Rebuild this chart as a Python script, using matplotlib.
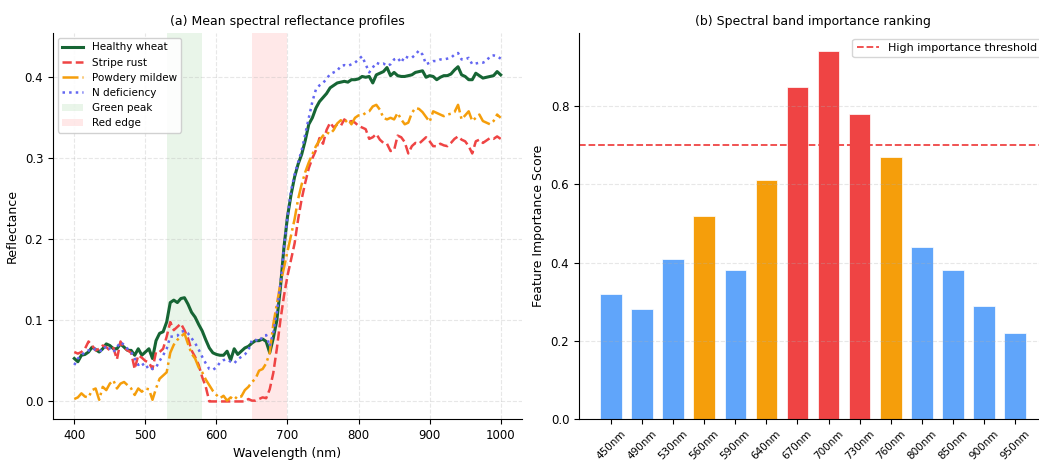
import numpy as np
import matplotlib
matplotlib.use("Agg")
import matplotlib.pyplot as plt
from matplotlib.patches import Patch

# ---------------- data ----------------
wavelengths = np.arange(400, 1001, 5)

healthy = [
    0.053, 0.049, 0.057, 0.058, 0.061, 0.067, 0.064, 0.061, 0.065, 0.071,
    0.069, 0.065, 0.065, 0.071, 0.067, 0.063, 0.063, 0.057, 0.065, 0.057,
    0.061, 0.065, 0.053, 0.075, 0.084, 0.086, 0.098, 0.122, 0.125, 0.122,
    0.127, 0.128, 0.120, 0.110, 0.104, 0.095, 0.087, 0.076, 0.066, 0.060,
    0.058, 0.057, 0.057, 0.062, 0.051, 0.065, 0.058, 0.062, 0.066, 0.068,
    0.072, 0.075, 0.075, 0.077, 0.074, 0.060, 0.078, 0.100, 0.140, 0.190,
    0.228, 0.255, 0.277, 0.293, 0.305, 0.322, 0.342, 0.350, 0.362, 0.370,
    0.375, 0.380, 0.387, 0.390, 0.393, 0.394, 0.395, 0.394, 0.397, 0.397,
    0.398, 0.401, 0.400, 0.401, 0.393, 0.403, 0.405, 0.407, 0.412, 0.402,
    0.406, 0.402, 0.401, 0.401, 0.402, 0.403, 0.406, 0.407, 0.408, 0.400,
    0.402, 0.401, 0.397, 0.400, 0.402, 0.402, 0.404, 0.409, 0.413, 0.403,
    0.401, 0.397, 0.397, 0.405, 0.402, 0.399, 0.400, 0.401, 0.402, 0.407,
    0.403,
]

stripe_rust = [
    0.061, 0.059, 0.061, 0.065, 0.074, 0.069, 0.063, 0.065, 0.069, 0.067,
    0.063, 0.066, 0.052, 0.074, 0.066, 0.063, 0.060, 0.040, 0.057, 0.054,
    0.050, 0.048, 0.040, 0.061, 0.061, 0.065, 0.080, 0.098, 0.088, 0.092,
    0.096, 0.088, 0.078, 0.063, 0.055, 0.045, 0.030, 0.018, 0.000, 0.000,
    0.000, 0.000, 0.000, 0.000, 0.000, 0.000, 0.000, 0.000, 0.000, 0.003,
    0.001, 0.001, 0.003, 0.005, 0.004, 0.015, 0.035, 0.065, 0.100, 0.130,
    0.155, 0.175, 0.195, 0.225, 0.250, 0.270, 0.288, 0.300, 0.310, 0.325,
    0.318, 0.335, 0.344, 0.338, 0.342, 0.340, 0.348, 0.344, 0.346, 0.344,
    0.340, 0.338, 0.336, 0.324, 0.326, 0.330, 0.323, 0.319, 0.318, 0.309,
    0.310, 0.328, 0.326, 0.320, 0.306, 0.315, 0.319, 0.318, 0.322, 0.326,
    0.321, 0.315, 0.315, 0.318, 0.316, 0.315, 0.319, 0.324, 0.327, 0.323,
    0.321, 0.315, 0.306, 0.321, 0.323, 0.319, 0.322, 0.325, 0.324, 0.327,
    0.324,
]

powdery_mildew = [
    0.003, 0.005, 0.010, 0.006, 0.005, 0.014, 0.016, 0.002, 0.018, 0.014,
    0.022, 0.026, 0.016, 0.022, 0.024, 0.020, 0.016, 0.008, 0.016, 0.012,
    0.016, 0.015, 0.002, 0.016, 0.028, 0.032, 0.036, 0.060, 0.070, 0.076,
    0.080, 0.084, 0.071, 0.059, 0.053, 0.042, 0.036, 0.027, 0.020, 0.013,
    0.008, 0.004, 0.007, 0.001, 0.005, 0.002, 0.007, 0.006, 0.014, 0.018,
    0.024, 0.028, 0.038, 0.040, 0.047, 0.060, 0.095, 0.120, 0.145, 0.165,
    0.185, 0.205, 0.225, 0.250, 0.268, 0.283, 0.295, 0.305, 0.315, 0.322,
    0.328, 0.332, 0.330, 0.335, 0.343, 0.347, 0.344, 0.348, 0.342, 0.350,
    0.353, 0.353, 0.356, 0.358, 0.364, 0.366, 0.360, 0.350, 0.348, 0.350,
    0.348, 0.356, 0.348, 0.342, 0.344, 0.356, 0.362, 0.361, 0.357, 0.351,
    0.345, 0.358, 0.356, 0.354, 0.352, 0.354, 0.355, 0.357, 0.366, 0.348,
    0.353, 0.358, 0.346, 0.350, 0.354, 0.346, 0.344, 0.342, 0.346, 0.354,
    0.350,
]

n_deficiency = [
    0.045, 0.053, 0.057, 0.061, 0.063, 0.062, 0.065, 0.063, 0.062, 0.069,
    0.065, 0.061, 0.067, 0.073, 0.070, 0.065, 0.061, 0.053, 0.045, 0.048,
    0.041, 0.044, 0.040, 0.042, 0.050, 0.057, 0.065, 0.080, 0.080, 0.081,
    0.086, 0.087, 0.084, 0.078, 0.072, 0.064, 0.055, 0.047, 0.040, 0.039,
    0.042, 0.048, 0.051, 0.052, 0.049, 0.047, 0.052, 0.055, 0.058, 0.063,
    0.076, 0.076, 0.074, 0.080, 0.082, 0.068, 0.085, 0.110, 0.145, 0.190,
    0.228, 0.260, 0.280, 0.295, 0.310, 0.330, 0.350, 0.370, 0.385, 0.390,
    0.393, 0.398, 0.404, 0.406, 0.408, 0.414, 0.415, 0.414, 0.416, 0.418,
    0.422, 0.426, 0.416, 0.406, 0.412, 0.418, 0.416, 0.417, 0.414, 0.416,
    0.422, 0.424, 0.418, 0.426, 0.424, 0.424, 0.428, 0.433, 0.428, 0.416,
    0.418, 0.420, 0.420, 0.422, 0.422, 0.423, 0.424, 0.428, 0.430, 0.422,
    0.422, 0.424, 0.416, 0.417, 0.418, 0.418, 0.420, 0.426, 0.427, 0.426,
    0.423,
]

green_peak = (530, 580)
red_edge = (650, 700)

bands = ["450nm", "490nm", "530nm", "560nm", "590nm", "640nm", "670nm",
         "700nm", "730nm", "760nm", "800nm", "850nm", "900nm", "950nm"]
importance = [0.32, 0.28, 0.41, 0.52, 0.38, 0.61, 0.85, 0.94, 0.78, 0.67,
              0.44, 0.38, 0.29, 0.22]
threshold = 0.7

# ---------------- style ----------------
plt.rcParams['font.family'] = ['DejaVu Sans']
C_GREEN = "#166534"
C_RED = "#ef4444"
C_ORANGE = "#f59e0b"
C_BLUE = "#6366f1"
C_BAR_BLUE = "#60a5fa"

fig = plt.figure(figsize=(10.39, 4.62), dpi=100)
ax1 = fig.add_axes([0.051, 0.0931, 0.4514, 0.8355])
ax2 = fig.add_axes([0.5573, 0.0931, 0.4504, 0.8355])

# ---------------- left panel ----------------
ax1.axvspan(*green_peak, color="#4caf50", alpha=0.12, lw=0)
ax1.axvspan(*red_edge, color="#ff6b6b", alpha=0.15, lw=0)
ax1.plot(wavelengths, healthy, color=C_GREEN, lw=2.2, label="Healthy wheat")
ax1.plot(wavelengths, stripe_rust, color=C_RED, lw=1.8, ls="--", label="Stripe rust")
ax1.plot(wavelengths, powdery_mildew, color=C_ORANGE, lw=1.8, ls="-.", label="Powdery mildew")
ax1.plot(wavelengths, n_deficiency, color=C_BLUE, lw=1.8, ls=":", label="N deficiency")

ax1.set_xticks([400, 500, 600, 700, 800, 900, 1000])
ax1.set_yticks([0.0, 0.1, 0.2, 0.3, 0.4])
ax1.set_xlabel("Wavelength (nm)", fontsize=9)
ax1.set_ylabel("Reflectance", fontsize=9)
ax1.set_title("(a) Mean spectral reflectance profiles", fontsize=9)
ax1.tick_params(labelsize=8.5)
ax1.grid(True, ls="--", alpha=0.3)
ax1.spines["top"].set_visible(False)
ax1.spines["right"].set_visible(False)

handles, labels = ax1.get_legend_handles_labels()
handles += [Patch(facecolor="#4caf50", alpha=0.12, edgecolor="none"),
            Patch(facecolor="#ff6b6b", alpha=0.15, edgecolor="none")]
labels += ["Green peak", "Red edge"]
ax1.legend(handles, labels, loc="upper left", fontsize=7.5, framealpha=0.9)

# ---------------- right panel ----------------
bar_colors = [C_RED if v > threshold else (C_ORANGE if v > 0.5 else C_BAR_BLUE)
              for v in importance]
x = np.arange(len(bands))
ax2.bar(x, importance, width=0.7, color=bar_colors, edgecolor="white", linewidth=0.5)
ax2.axhline(threshold, color=C_RED, ls="--", lw=1.3, label="High importance threshold")
ax2.set_xticks(x)
ax2.set_xticklabels(bands, rotation=45, fontsize=7.5)
ax2.set_ylim(0, max(importance) * 1.05)
ax2.set_yticks([0.0, 0.2, 0.4, 0.6, 0.8])
ax2.tick_params(axis="y", labelsize=8.5)
ax2.set_ylabel("Feature Importance Score", fontsize=9)
ax2.set_title("(b) Spectral band importance ranking", fontsize=9)
ax2.grid(True, axis="y", ls="--", alpha=0.3)
ax2.spines["top"].set_visible(False)
ax2.spines["right"].set_visible(False)
ax2.legend(loc="upper right", fontsize=8)

fig.savefig("out.png", dpi=100)
